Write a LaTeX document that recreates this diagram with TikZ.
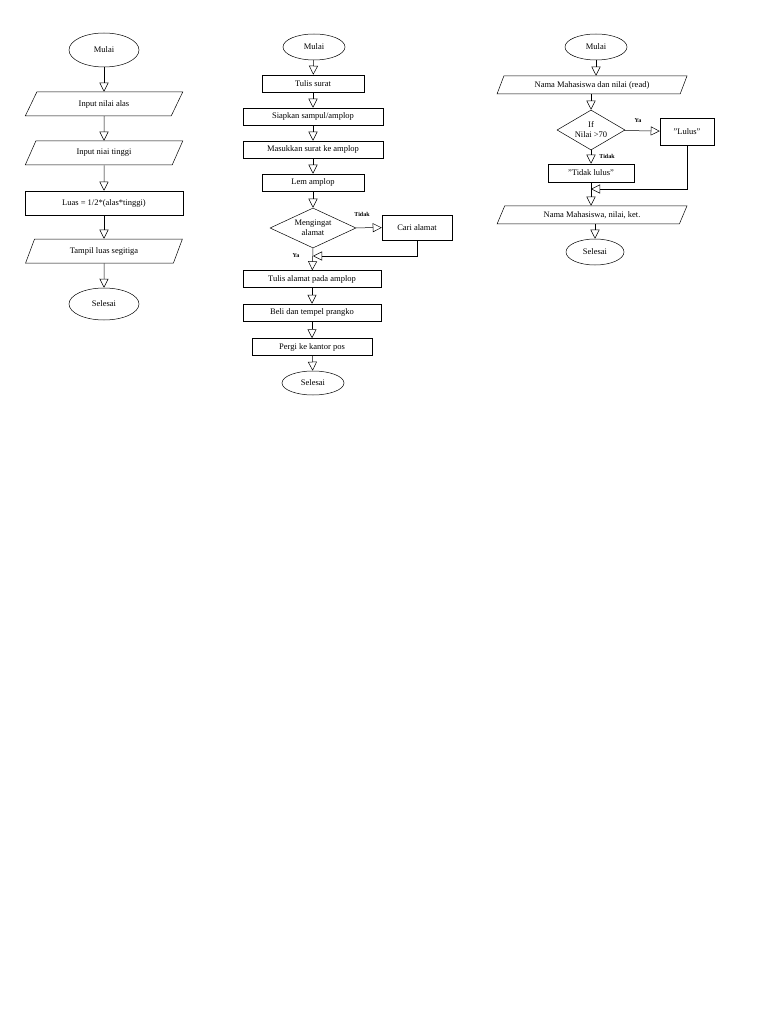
\documentclass[tikz,border=0pt]{standalone}
\usepackage{fontspec}
\setmainfont{Liberation Serif}
\usetikzlibrary{shapes.geometric,arrows.meta}
\begin{document}
\begin{tikzpicture}[x=1pt,y=-1pt,
  every node/.style={font=\fontsize{8.5}{10}\selectfont, align=center, inner sep=1pt},
  term/.style={draw, ellipse, minimum width=#1, minimum height=26},
  proc/.style={draw, rectangle, minimum width=#1, minimum height=17},
  io/.style={draw, trapezium, trapezium left angle=65, trapezium right angle=115, trapezium stretches=true, minimum width=#1, minimum height=24},
  dec/.style={draw, diamond, aspect=2.1, minimum width=#1},
  lab/.style={font=\fontsize{6}{7}\selectfont\bfseries},
  arr/.style={-{Triangle[open,length=9,width=9]}, line width=0.5pt},
  line width=0.5pt]
\useasboundingbox (0,0) rectangle (768,1024);
% column 1
\node[term=70, minimum height=34] (m1) at (104,50) {Mulai};
\node[io=158] (a1) at (104,104) {Input nilai alas};
\node[io=158] (a2) at (104,153) {Input niai tinggi};
\node[proc=158, minimum height=24] (a3) at (104,203) {Luas = 1/2*(alas*tinggi)};
\node[io=158] (a4) at (104,251) {Tampil luas segitiga};
\node[term=70, minimum height=32] (s1) at (104,304) {Selesai};
\draw[arr] (m1) -- (a1);
\draw[arr] (a1) -- (a2);
\draw[arr] (a2) -- (a3);
\draw[arr] (a3) -- (a4);
\draw[arr] (a4) -- (s1);
% column 2
\node[term=62] (m2) at (314,47) {Mulai};
\node[proc=102] (b1) at (313,83.5) {Tulis surat};
\node[proc=140] (b2) at (313,116.5) {Siapkan sampul/amplop};
\node[proc=140] (b3) at (313,149.5) {Masukkan surat ke amplop};
\node[proc=102] (b4) at (313,182.5) {Lem amplop};
\node[draw, diamond, minimum width=86, minimum height=40, inner sep=0pt, aspect=2.15] (d2) at (313,228) {Mengingat\\alamat};
\node[proc=70, minimum height=25] (c2) at (417,227.5) {Cari alamat};
\node[proc=138] (b5) at (312,279) {Tulis alamat pada amplop};
\node[proc=138] (b6) at (312,312.5) {Beli dan tempel prangko};
\node[proc=120] (b7) at (312,347) {Pergi ke kantor pos};
\node[term=62, minimum height=24] (s2) at (313,383) {Selesai};
\coordinate (j2) at (313,256);
\draw[arr] (m2) -- (b1);
\draw[arr] (b1) -- (b2);
\draw[arr] (b2) -- (b3);
\draw[arr] (b3) -- (b4);
\draw[arr] (b4) -- (d2);
\draw[arr] (d2) -- (c2);
\draw[arr] (c2.south) |- (j2);
\draw[arr] (d2.south) -- (b5);
\draw[arr] (b5) -- (b6);
\draw[arr] (b6) -- (b7);
\draw[arr] (b7) -- (s2);
\node[lab] at (362,214) {Tidak};
\node[lab] at (296,256) {Ya};
% column 3
\node[term=62] (m3) at (596,47) {Mulai};
\node[io=190, minimum height=18] (e1) at (592,85) {Nama Mahasiswa dan nilai (read)};
\node[draw, diamond, minimum width=68, minimum height=40, inner sep=0pt, aspect=1.7] (d3) at (591,130) {If\\Nilai >70};
\node[proc=54, minimum height=27] (l3) at (687,131.5) {"Lulus"};
\node[proc=86, minimum height=18] (t3) at (591,173) {"Tidak lulus"};
\coordinate (j3) at (591,189);
\node[io=190, minimum height=18] (e2) at (592,215) {Nama Mahasiswa, nilai, ket.};
\node[term=58] (s3) at (595,252) {Selesai};
\draw[arr] (m3) -- (e1.north -| m3);
\draw[arr] (e1.south -| d3) -- (d3);
\draw[arr] (d3) -- (l3);
\draw[arr] (d3) -- (t3);
\draw[arr] (l3.south) |- (j3);
\draw[arr] (t3) -- (e2.north -| t3);
\draw[arr] (e2.south -| s3) -- (s3);
\node[lab] at (638,121) {Ya};
\node[lab] at (607,156) {Tidak};
\end{tikzpicture}
\end{document}
